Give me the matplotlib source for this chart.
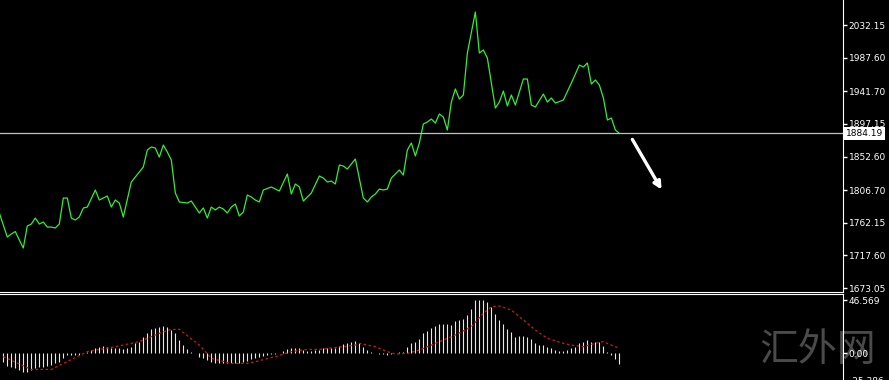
import matplotlib
matplotlib.use('Agg')
import matplotlib.pyplot as plt
from matplotlib.transforms import blended_transform_factory

# close prices (bar index, price)
price_bar = [-1, 1, 2, 3, 4, 5, 6, 7, 8, 9, 10, 11, 12, 13, 14, 15, 16, 17, 18, 19,
             20, 21, 23, 24, 26, 27, 28, 29, 30, 32, 33, 35, 36, 37, 38, 39, 40, 41, 42, 43,
             44, 46, 47, 48, 49, 50, 51, 52, 53, 54, 55, 56, 57, 58, 59, 60, 61, 62, 63, 64,
             65, 67, 68, 69, 71, 72, 73, 74, 75, 77, 79, 80, 81, 82, 83, 84, 85, 86, 88, 90,
             91, 92, 93, 94, 95, 96, 97, 99, 100, 101, 102, 103, 104, 105, 106, 107, 108, 109, 110, 111,
             112, 113, 114, 115, 116, 118, 119, 120, 121, 123, 124, 125, 126, 127, 128, 130, 131, 132, 133, 135,
             136, 137, 138, 140, 142, 144, 145, 146, 147, 148, 149, 150, 151, 152, 153, 154]
price_close = [1775.5, 1742.7, 1746.8, 1750.2, 1738.6, 1727.7, 1757.7, 1760.4, 1768.6, 1760.4,
               1763.2, 1756.3, 1756.3, 1755.0, 1760.4, 1795.9, 1795.9, 1768.6, 1765.9, 1770.0,
               1782.3, 1783.6, 1806.9, 1793.2, 1798.7, 1783.6, 1793.2, 1789.1, 1770.0, 1817.8,
               1824.6, 1838.3, 1861.5, 1865.6, 1864.2, 1851.9, 1868.3, 1858.7, 1847.8, 1802.8,
               1790.5, 1789.1, 1791.8, 1783.6, 1775.5, 1782.3, 1768.6, 1783.6, 1779.6, 1783.6,
               1780.9, 1775.5, 1783.6, 1787.7, 1771.4, 1776.8, 1800.0, 1797.3, 1793.2, 1790.5,
               1806.9, 1811.0, 1808.2, 1805.5, 1828.7, 1801.4, 1815.1, 1811.0, 1791.8, 1802.8,
               1826.0, 1823.2, 1817.8, 1819.1, 1815.1, 1841.0, 1839.6, 1835.5, 1849.2, 1795.9,
               1790.5, 1797.3, 1801.4, 1808.2, 1806.9, 1808.2, 1823.2, 1834.2, 1827.3, 1861.5,
               1871.0, 1853.3, 1871.0, 1897.0, 1899.7, 1903.8, 1898.3, 1910.6, 1906.5, 1888.8,
               1927.0, 1944.8, 1931.1, 1936.6, 1993.9, 2049.9, 1993.9, 1998.0, 1987.1, 1918.8,
               1927.0, 1942.0, 1921.6, 1936.6, 1922.9, 1958.4, 1958.4, 1922.9, 1920.2, 1937.9,
               1927.0, 1932.5, 1925.6, 1929.7, 1953.0, 1977.5, 1974.8, 1980.3, 1951.6, 1957.1,
               1950.2, 1932.5, 1902.4, 1905.2, 1888.8, 1884.2]

current_price = 1884.19
price_ticks = [2032.15, 1987.60, 1941.70, 1897.15, 1852.60, 1806.70, 1762.15, 1717.60, 1673.05]
price_labels = ['2032.15', '1987.60', '1941.70', '1897.15', '1852.60', '1806.70', '1762.15', '1717.60', '1673.05']

# MACD histogram, one value per bar (0..154)
macd_hist = [-7.6, -11.4, -12.6, -13.5, -14.9, -16.4, -17.0, -14.9, -13.5, -12.6,
             -12.0, -11.4, -10.5, -9.1, -7.6, -4.7, -1.8, -1.5, -1.5, -1.8,
             -0.2, 1.2, 2.6, 4.1, 5.6, 6.2, 5.6, 4.1, 4.7, 4.1,
             3.5, 4.1, 5.6, 8.5, 10.0, 13.8, 17.3, 20.8, 22.3, 23.1,
             23.7, 23.1, 20.2, 17.3, 11.4, 7.0, 3.5, 1.2, -0.3, -3.2,
             -4.7, -6.2, -7.6, -8.5, -9.1, -9.1, -9.1, -8.5, -8.5, -8.5,
             -7.6, -6.7, -5.6, -4.7, -3.8, -2.6, -1.8, -0.9, -0.9, -0.3,
             1.8, 3.5, 4.1, 4.1, 4.1, 2.6, 2.1, 2.1, 2.6, 2.6,
             4.1, 4.7, 4.1, 4.1, 6.4, 7.9, 9.1, 10.0, 10.5, 8.5,
             5.6, 2.6, 1.2, -0.3, -0.9, -0.9, -1.8, -0.9, 0.3, 1.2,
             1.2, 5.6, 8.5, 10.0, 12.0, 17.3, 19.3, 21.7, 23.7, 25.5,
             25.5, 25.2, 24.6, 28.1, 29.0, 29.6, 33.4, 38.4, 46.4, 46.57,
             46.3, 45.1, 40.7, 34.0, 29.0, 25.5, 20.8, 18.2, 14.4, 14.9,
             14.9, 14.4, 12.0, 8.5, 7.0, 7.0, 5.6, 4.7, 2.6, 1.8,
             1.8, 2.6, 4.1, 5.6, 8.5, 10.0, 11.4, 10.0, 9.4, 9.4,
             6.4, 1.2, -1.8, -5.6, -9.7]

# MACD signal line (bar index, value)
signal_bar = [0, 7, 12, 21, 28, 34, 39, 42, 44, 49, 52, 57, 61, 63, 68, 72, 76, 79,
              80, 88, 89, 93, 96, 98, 101, 104, 108, 113, 117, 120, 122, 124, 127,
              130, 133, 136, 140, 142, 145, 148, 150, 152, 154]
signal_val = [-3.2, -14.4, -14.4, 1.2, 5.6, 10.0, 17.3, 20.8, 20.8, 7.0, -4.7, -9.1, -9.1, -7.6,
              -3.2, 1.2, 3.2, 3.2, 3.5, 7.0, 8.5, 5.6, 1.2, -0.9, -0.3, 2.6, 8.5, 15.8, 23.1,
              34.9, 40.7, 41.3, 37.8, 29.0, 20.2, 12.9, 8.5, 7.0, 5.6, 8.5, 10.0, 7.0, 4.1]
macd_ticks = [46.569, 0.0]
macd_labels = ['46.569', '0.00']

W, H = 889, 380
fig = plt.figure(figsize=(W / 100, H / 100), dpi=100, facecolor='black')

ax = fig.add_axes([0, 1 - 291.5 / H, 843 / W, 291.5 / H])
ax2 = fig.add_axes([0, 0, 843 / W, 86.5 / H])

for a in (ax, ax2):
    a.set_facecolor('none')
    a.set_xlim(-0.825, 209.9)
    a.set_xticks([])
    a.spines['left'].set_visible(False)
    a.spines['right'].set_color('white')
    a.yaxis.tick_right()
    a.tick_params(axis='y', colors='white', length=3, width=1, labelsize=6.5, pad=1)

ax.spines['top'].set_visible(False)
ax.spines['bottom'].set_color('white')
ax2.spines['bottom'].set_visible(False)
ax2.spines['top'].set_color('white')

# price panel
ax.plot(price_bar, price_close, color='#33ee33', lw=0.9)
ax.axhline(current_price, color='#c0c0c0', lw=0.9)
ax.set_ylim(1668.3, 2066.3)
ax.set_yticks(price_ticks)
ax.set_yticklabels(price_labels)
trans = blended_transform_factory(ax.transAxes, ax.transData)
ax.text(1.0035, current_price, '%.2f' % current_price, transform=trans, ha='left', va='center',
        fontsize=6.5, color='black', bbox=dict(facecolor='white', edgecolor='none', pad=1.2))
ax.annotate('', xy=(164.9, 1804.1), xytext=(156.9, 1879.2),
            arrowprops=dict(arrowstyle='-|>', color='white', lw=2.4, mutation_scale=11))

# MACD panel
ax2.vlines(range(len(macd_hist)), 0, macd_hist, colors='#e8e8e8', lw=0.8)
ax2.plot(signal_bar, signal_val, color='#d01818', lw=0.9, ls=(0, (2, 2)))
ax2.set_ylim(-23.7, 52.3)
ax2.set_yticks(macd_ticks)
ax2.set_yticklabels(macd_labels)
trans2 = blended_transform_factory(ax2.transAxes, ax2.transData)
ax2.text(1.008, -25.386, '-25.386', transform=trans2, ha='left', va='center',
         fontsize=6.5, color='white', clip_on=False)

fig.text(818 / W, 1 - 350 / H, '汇外网', fontsize=28, color='#4a4a4a', ha='center', va='center',
         family=['Noto Sans CJK SC', 'DejaVu Sans'], zorder=-1)

fig.savefig('out.png', dpi=100, facecolor='black')
